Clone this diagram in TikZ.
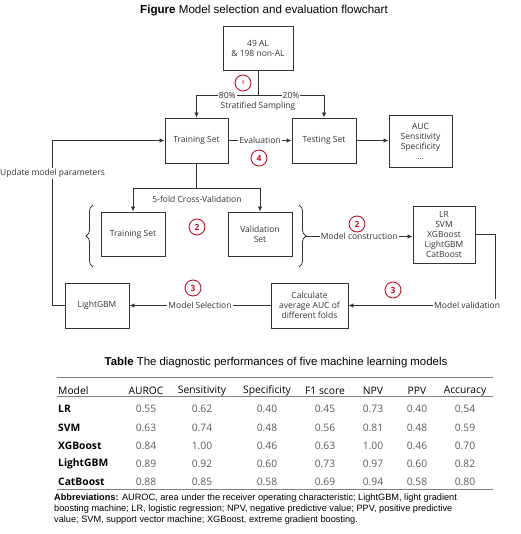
\documentclass[tikz,border=0pt]{standalone}
\usepackage{fontspec}
\setmainfont{Liberation Sans}
\newfontfamily\flowfont{Open Sans}
\usetikzlibrary{arrows.meta,decorations.pathreplacing}

\definecolor{linegray}{HTML}{333333}
\definecolor{markred}{HTML}{B8142A}
\definecolor{valgray}{HTML}{5A5A5A}
\definecolor{rulegray}{HTML}{808080}

\begin{document}
\begin{tikzpicture}[x=1pt, y=-1pt,
    box/.style={draw=linegray, line width=0.9pt, minimum width=63pt, minimum height=45pt,
        align=center, inner sep=1pt, text=linegray, font=\flowfont\fontsize{8.5}{10}\selectfont},
    lbl/.style={fill=white, inner sep=1pt, text=linegray, font=\flowfont\fontsize{8.5}{10}\selectfont},
    stepmark/.style={circle, draw=markred, line width=0.9pt, minimum size=16pt, inner sep=0pt,
        text=markred, font=\flowfont\bfseries\fontsize{8.5}{9}\selectfont},
    arr/.style={draw=linegray, line width=0.9pt, -{Latex[length=5pt,width=4.5pt]}},
    conn/.style={draw=linegray, line width=0.9pt},
    curly/.style={draw=linegray, line width=0.8pt, decorate, decoration={brace, amplitude=7pt}},
    rule/.style={draw=rulegray, line width=0.8pt},
    hdr/.style={inner sep=0pt, font=\flowfont\fontsize{10.3}{12}\selectfont},
    rowname/.style={anchor=west, inner sep=0pt, font=\flowfont\bfseries\fontsize{10.3}{12}\selectfont},
    cell/.style={inner sep=0pt, text=valgray, font=\flowfont\fontsize{10.3}{12}\selectfont},
]
\useasboundingbox (0,0) rectangle (520,534);

% 标题
\node[font=\fontsize{11.6}{13}\selectfont] (figtitle) at (264,11) {\textbf{Figure} Model selection and evaluation flowchart};

% 流程图方框
\node[box, minimum width=70pt, minimum height=44pt] (data) at (258,48) {49 AL\\\& 198 non-AL};
\node[box] (train) at (196.5,140.5) {Training Set};
\node[box, minimum width=64pt] (test) at (324,140.5) {Testing Set};
\node[box, minimum height=52pt] (metrics) at (420.5,141) {AUC\\Sensitivity\\Specificity\\...};
\node[box, minimum width=64pt, minimum height=44pt] (cvtrain) at (133,234) {Training Set};
\node[box, minimum width=64pt, minimum height=44pt] (cvval) at (260,234) {Validation\\Set};
\node[box, minimum width=62pt, minimum height=57pt] (models) at (444,234.5) {LR\\SVM\\XGBoost\\LightGBM\\CatBoost};
\node[box, minimum width=77pt] (calc) at (309.5,305.5) {Calculate\\average AUC of\\different folds};
\node[box, minimum width=64pt] (best) at (97,305.5) {LightGBM};

% 分层抽样
\coordinate (split) at (258,95);
\draw[conn] (data.south) -- (split);
\draw[arr] (split) -- node[lbl] {80\%} (train.north |- split) -- (train.north);
\draw[arr] (split) -- node[lbl] {20\%} (test.north |- split) -- (test.north);
\node[lbl] (sampling) at (258,106) {Stratified Sampling};

% 评价
\draw[arr] (train) -- node[lbl] {Evaluation} (test);
\draw[arr] (test) -- (metrics.west |- test);

% 五折交叉验证
\coordinate (cvsplit) at (196.5,188);
\draw[conn] (train.south) -- (cvsplit);
\draw[arr] (cvsplit) -| (cvtrain.north);
\draw[arr] (cvsplit) -| (cvval.north);
\node[lbl] (cvlabel) at (197,199) {5-fold Cross-Validation};

% 括号
\draw[curly] (93,267) -- (93,205);
\draw[curly] (299,205) -- (299,267);
\coordinate (bracetip) at (306,236.5);

% 模型构建与验证
\draw[arr] (bracetip) -- node[lbl] {Model construction} (models.west |- bracetip);
\draw[arr] (models.east) -| (495,305.5) -- node[lbl, pos=0.19, inner ysep=3pt] {Model validation} (calc.east);
\draw[arr] (calc) -- node[lbl] {Model Selection} (best);
\draw[arr] (best.west) -- ++(-12,0) |- node[lbl, pos=0.4] {Update model parameters} (train.west);

% 步骤编号
\node[stepmark, font=\flowfont\bfseries\fontsize{5}{6}\selectfont] (s1) at (243,83) {1};
\node[stepmark] (s4) at (259,158) {4};
\node[stepmark] (s2a) at (197,227) {2};
\node[stepmark] (s2b) at (357,224) {2};
\node[stepmark] (s3a) at (193,288) {3};
\node[stepmark] (s3b) at (393,290) {3};

% 表格
\node[font=\fontsize{11.4}{13}\selectfont] (tabtitle) at (276,363) {\textbf{Table} The diagnostic performances of five machine learning models};
\draw[rule] (57,377) -- (493,377);
\draw[rule, line width=0.6pt] (57,396) -- (493,396);
\draw[rule] (57,489) -- (493,489);
\node[hdr, anchor=west] (hmodel) at (58,391) {Model};
\foreach \h/\cx in {AUROC/146, Sensitivity/202, Specificity/267, F1 score/325, NPV/373, PPV/417, Accuracy/465}
    \node[hdr] (h\cx) at (\cx,391) {\h};
\foreach \nm/\va/\vb/\vc/\vd/\ve/\vf/\vg [count=\i] in {
    LR/0.55/0.62/0.40/0.45/0.73/0.40/0.54,
    SVM/0.63/0.74/0.48/0.56/0.81/0.48/0.59,
    XGBoost/0.84/1.00/0.46/0.63/1.00/0.46/0.70,
    LightGBM/0.89/0.92/0.60/0.73/0.97/0.60/0.82,
    CatBoost/0.88/0.85/0.58/0.69/0.94/0.58/0.80} {
    \node[rowname] (m\i) at (58,{391+\i*18.25}) {\nm};
    \foreach \v/\cx in {\va/146, \vb/202, \vc/267, \vd/325, \ve/373, \vf/417, \vg/465}
        \node[cell] (v\i\cx) at (\cx,{391+\i*18.25}) {\v};
}
\node[anchor=north west, align=left, inner sep=0pt, font=\fontsize{9.2}{11}\selectfont] (abbr) at (54,494)
    {\textbf{Abbreviations:} AUROC, area under the receiver operating characteristic; LightGBM, light gradient\\
     boosting machine; LR, logistic regression; NPV, negative predictive value; PPV, positive predictive\\
     value; SVM, support vector machine; XGBoost, extreme gradient boosting.};
\end{tikzpicture}
\end{document}
